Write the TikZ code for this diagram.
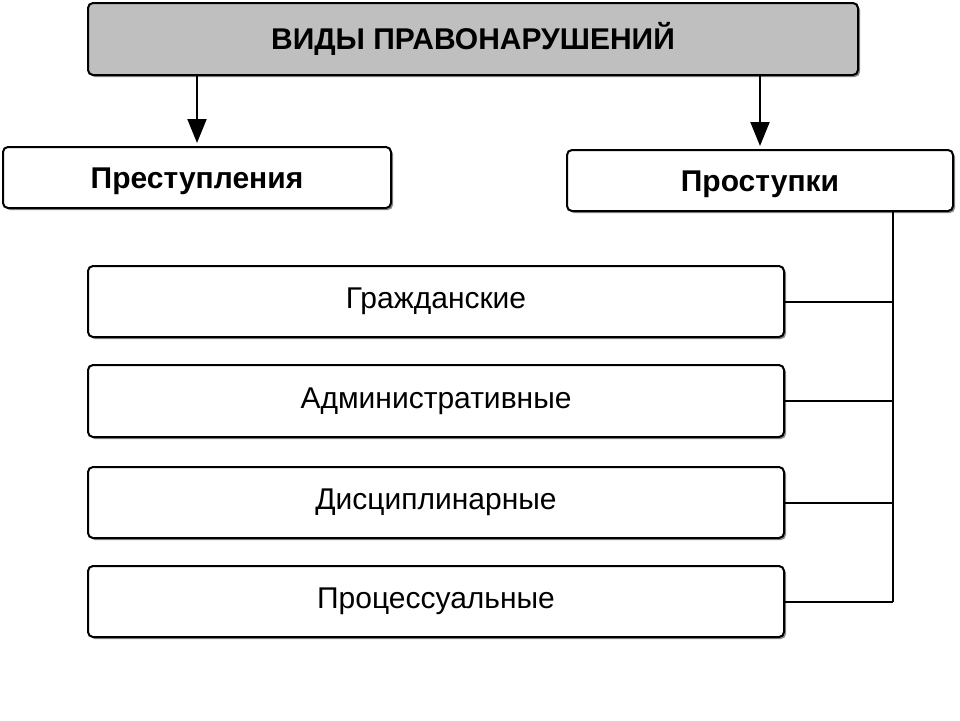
\documentclass[tikz,border=0pt]{standalone}
\usepackage{fontspec}
\setmainfont{Liberation Sans}
\usetikzlibrary{arrows.meta}
\begin{document}
\begin{tikzpicture}[x=1pt,y=-1pt,
  box/.style={draw=black, line width=2pt, rounded corners=5pt, fill=white, align=center, inner sep=0pt},
  capbox/.style={box, text height=21.5pt, text depth=0pt},
  headbox/.style={capbox, fill=black!25},
  conn/.style={line width=2pt, draw=black},
  arr/.style={conn, -{Triangle[length=24pt,width=19pt]}, shorten >=3pt}]
\useasboundingbox (0,0) rectangle (960,720);
\fill[white] (0,0) rectangle (960,720);
% shadows
\foreach \a/\b/\c/\d in {88/3/858/75, 3/147/391/208, 567/150/953/211, 88/266/784/337, 88/365/784/437, 88/467/784/538, 88/566/784/637}
  \fill[black!45, rounded corners=5pt] (\a+2,\b+2) rectangle (\c+2,\d+2);
\node[headbox, minimum width=770pt, minimum height=72pt] (head) at (473,39) {\fontsize{30}{34}\selectfont\bfseries ВИДЫ ПРАВОНАРУШЕНИЙ};
\node[capbox, minimum width=388pt, minimum height=61pt] (cr) at (197,177.5) {\fontsize{30}{34}\selectfont\bfseries Преступления};
\node[capbox, minimum width=386pt, minimum height=61pt] (mis) at (760,180.5) {\fontsize{30}{34}\selectfont\bfseries Проступки};
\node[box, minimum width=696pt, minimum height=71pt] (g1) at (436,301.5) {\fontsize{30}{34}\selectfont Гражданские};
\node[box, minimum width=696pt, minimum height=72pt] (g2) at (436,401) {\fontsize{30}{34}\selectfont Административные};
\node[box, minimum width=696pt, minimum height=71pt] (g3) at (436,502.5) {\fontsize{30}{34}\selectfont Дисциплинарные};
\node[box, minimum width=696pt, minimum height=71pt] (g4) at (436,601.5) {\fontsize{30}{34}\selectfont Процессуальные};
\coordinate (bus) at (893,211);
\draw[arr] (head.south -| cr.north) -- (cr.north);
\draw[arr] (head.south -| mis.north) -- (mis.north);
\draw[conn] (mis.south -| bus) -- (bus |- g4.east);
\foreach \n in {g1,g2,g3,g4}
  \draw[conn] (\n.east) -- (\n.east -| bus);
\end{tikzpicture}
\end{document}
